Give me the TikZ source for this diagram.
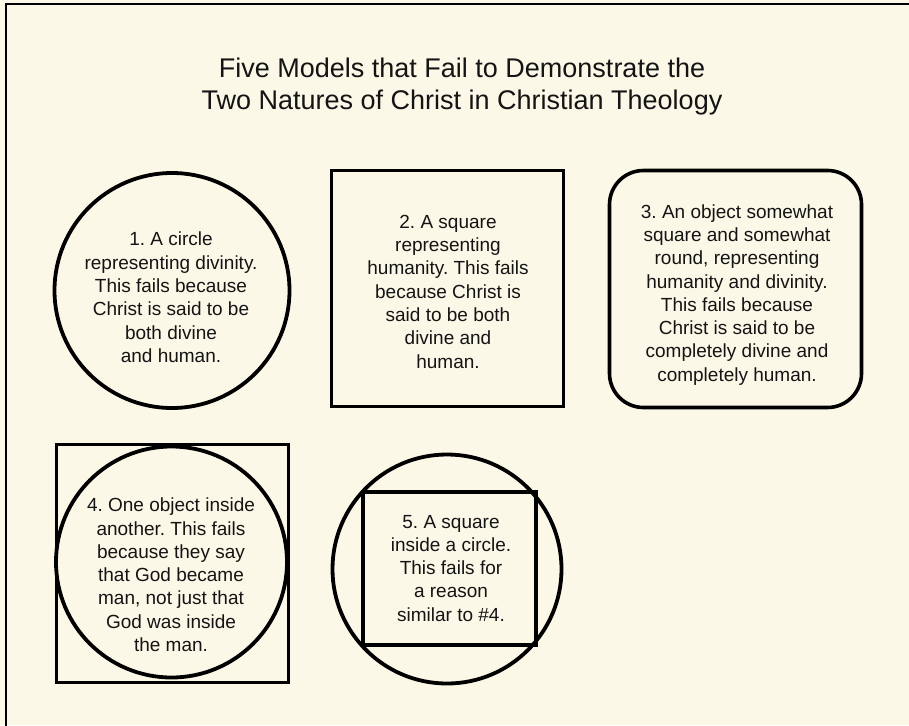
\documentclass[tikz,border=0pt]{standalone}
\usepackage{fontspec}
\setmainfont{Liberation Sans}
\frenchspacing
\definecolor{bg}{RGB}{252,248,232}
\definecolor{ink}{RGB}{20,20,20}
\tikzset{
  shapeline/.style={draw=black, line width=3.4pt, inner sep=0pt, outer sep=0pt},
  roundshape/.style={shapeline, circle, line width=3.8pt},
  boxshape/.style={shapeline, rectangle, line width=3.2pt},
  bodytext/.style={text=ink, align=center, inner sep=0pt, font=\fontsize{19}{23.3}\selectfont\frenchspacing},
  titletext/.style={text=ink, align=center, inner sep=0pt, font=\fontsize{27}{32}\selectfont\frenchspacing},
}
\begin{document}
\begin{tikzpicture}[x=1pt,y=-1pt]
\useasboundingbox (0,0) rectangle (909,725);
\fill[bg] (0,0) rectangle (909,725);
% frame (top and left edges visible)
\coordinate (fbl) at (6,730);
\coordinate (ftl) at (6,4);
\coordinate (ftr) at (915,4);
\draw[line width=2pt] (fbl) -- (ftl) -- (ftr);

% title
\node[titletext] (title) at (462,87) {\strut Five Models that Fail to Demonstrate the\\Two Natures of Christ in Christian Theology\strut};

% 1
\node[roundshape, minimum size=235pt] (s1) at (172,290.5) {};
\node[bodytext] (t1) at (171,299.5) {\strut 1. A circle\\representing divinity.\\This fails because\\Christ is said to be\\both divine\\and human.\strut};

% 2
\node[boxshape, minimum width=232pt, minimum height=236pt] (s2) at (447.5,288.5) {};
\node[bodytext] (t2) at (448,293.5) {\strut 2. A square\\representing\\humanity. This fails\\because Christ is\\said to be both\\divine and\\human.\strut};

% 3
\node[boxshape, rounded corners=34pt, line width=3.6pt, minimum width=252pt, minimum height=237pt] (s3) at (735.5,289) {};
\node[bodytext] (t3) at (737,295) {\strut 3. An object somewhat\\square and somewhat\\round, representing\\humanity and divinity.\\This fails because\\Christ is said to be\\completely divine and\\completely human.\strut};

% 4
\node[boxshape, minimum width=232pt, minimum height=238pt] (s4a) at (172.5,563.5) {};
\node[roundshape, minimum size=231pt] (s4b) at (171.5,562) {};
\node[bodytext] (t4) at (171,577) {\strut 4. One object inside\\another. This fails\\because they say\\that God became\\man, not just that\\God was inside\\the man.\strut};

% 5
\node[roundshape, minimum size=229pt] (s5a) at (447,569) {};
\node[boxshape, minimum width=173pt, minimum height=153pt] (s5b) at (449.5,568.5) {};
\node[bodytext] (t5) at (451,570) {\strut 5. A square\\inside a circle.\\This fails for\\a reason\\similar to \#4.\strut};
\end{tikzpicture}
\end{document}
